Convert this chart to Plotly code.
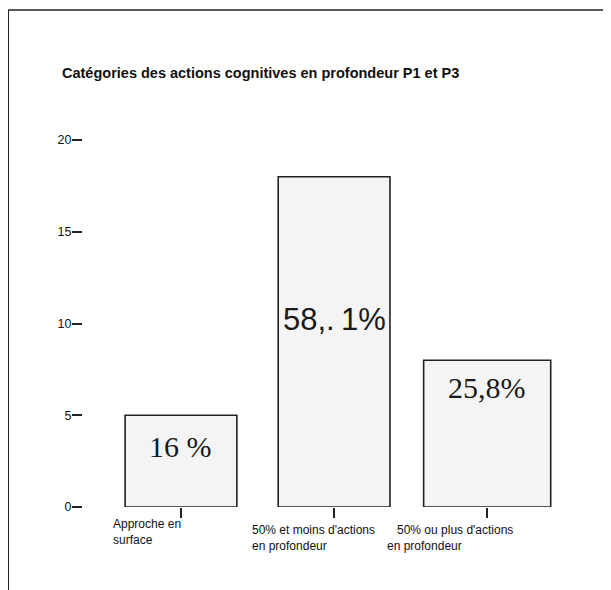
import plotly.graph_objects as go

categories = ["Approche en<br>surface",
              "50% et moins d'actions<br>en profondeur",
              "\u00a0\u00a0\u00a050% ou plus d'actions<br>en profondeur"]
counts = [5, 18, 8]
pct_labels = ["16 %", "58,.\u20091%", "25,8%"]
pct_y = [3.3, 10.2, 6.5]
pct_fonts = ["Liberation Serif", "Liberation Sans", "Liberation Serif"]
bar_widths = [0.73, 0.73, 0.83]
y_ticks = [0, 5, 10, 15, 20]

x_pos = list(range(len(counts)))

fig = go.Figure()
fig.add_trace(go.Bar(
    x=x_pos, y=counts, width=bar_widths,
    marker=dict(color="#f4f4f4", line=dict(color="#222222", width=1.6)),
    hoverinfo="skip",
))

# percentage labels inside bars
for i, (txt, yy, fnt) in enumerate(zip(pct_labels, pct_y, pct_fonts)):
    fig.add_annotation(x=x_pos[i], y=yy, text=txt, showarrow=False,
                       font=dict(family=fnt, size=30 if i != 1 else 31, color="#1a1a1a"))

# category labels, left aligned under each bar
shifts = [(-70, -8), (-84, -14), (-102, -14)]
for i, cat in enumerate(categories):
    fig.add_annotation(x=x_pos[i], y=0, yref="paper", text=cat, showarrow=False,
                       xanchor="left", yanchor="top", align="left",
                       xshift=shifts[i][0], yshift=shifts[i][1],
                       font=dict(family="Liberation Sans", size=12, color="#111111"))

# frame lines of the scanned page
fig.add_shape(type="line", xref="paper", yref="paper", x0=-0.144, x1=1.05, y0=1.318, y1=1.318,
              line=dict(color="#222222", width=1.5))
fig.add_shape(type="line", xref="paper", yref="paper", x0=-0.144, x1=-0.144, y0=1.318, y1=-0.25,
              line=dict(color="#222222", width=1.5))

fig.update_layout(
    width=611, height=590,
    margin=dict(l=75, r=17, t=122, b=91),
    paper_bgcolor="white", plot_bgcolor="white",
    showlegend=False,
    title=dict(text="<b>Catégories des actions cognitives en profondeur P1 et P3</b>",
               x=54 / 611, xanchor="left", xref="container",
               y=1 - 65 / 590, yanchor="middle", yref="container",
               font=dict(family="Liberation Sans", size=14.5, color="#111111")),
    xaxis=dict(range=[-0.64, 2.75], tickvals=x_pos, showticklabels=False,
               ticks="outside", ticklen=10, tickwidth=1.5, tickcolor="#222222",
               showline=False, showgrid=False, zeroline=False),
    yaxis=dict(range=[0, 20.55], tickvals=y_ticks, ticks="outside", ticklen=10,
               tickwidth=1.5, tickcolor="#222222", showline=False, showgrid=False,
               zeroline=False, ticklabelstandoff=-2,
               tickfont=dict(family="Liberation Sans", size=12.5, color="#111111")),
)

fig.write_html("out.html")
